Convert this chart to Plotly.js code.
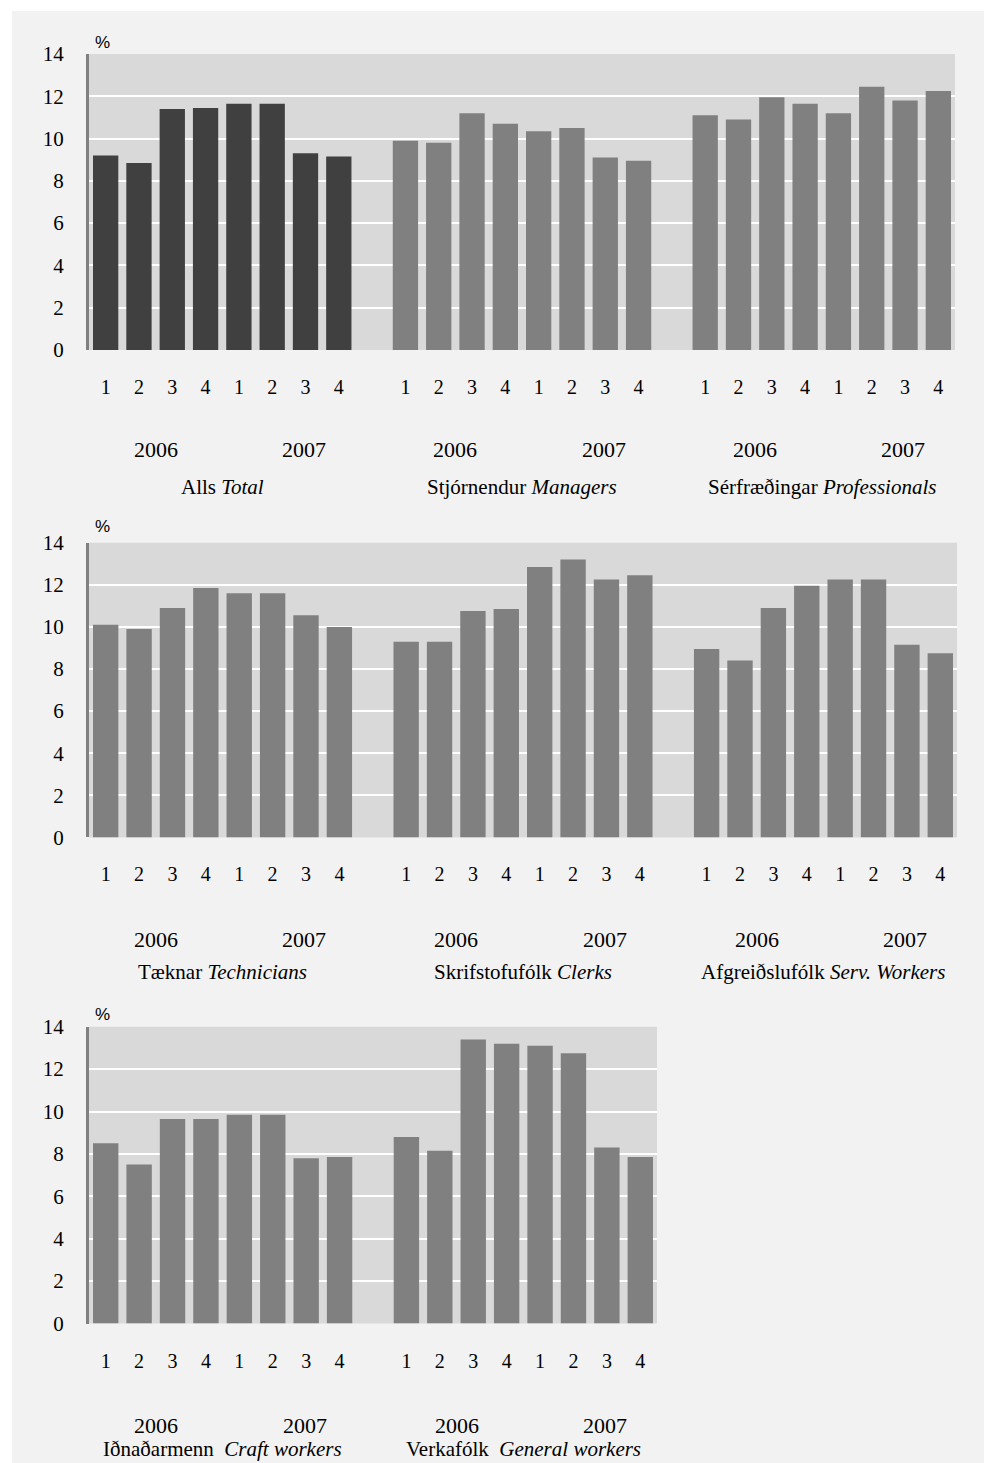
<!DOCTYPE html>
<html>
<head>
<meta charset="utf-8">
<script src="https://cdn.plot.ly/plotly-3.0.1.min.js"></script>
<style>
  html, body { margin: 0; padding: 0; background: #ffffff; width: 984px; height: 1463px; overflow: hidden; }
  #chart { position: absolute; left: 12px; top: 11px; width: 972px; height: 1452px; }
</style>
</head>
<body>
<div id="chart"></div>
<script>
// ---- data ----
const quarters = ['1', '2', '3', '4', '1', '2', '3', '4'];
const years = ['2006', '2007'];

const total         = [9.2, 8.85, 11.4, 11.45, 11.65, 11.65, 9.3, 9.15];
const managers      = [9.9, 9.8, 11.2, 10.7, 10.35, 10.5, 9.1, 8.95];
const professionals = [11.1, 10.9, 11.95, 11.65, 11.2, 12.45, 11.8, 12.25];
const technicians   = [10.1, 9.9, 10.9, 11.85, 11.6, 11.6, 10.55, 10.0];
const clerks        = [9.3, 9.3, 10.75, 10.85, 12.85, 13.2, 12.25, 12.45];
const servWorkers   = [8.95, 8.4, 10.9, 11.95, 12.25, 12.25, 9.15, 8.75];
const craftWorkers  = [8.5, 7.5, 9.65, 9.65, 9.85, 9.85, 7.8, 7.85];
const generalWorkers= [8.8, 8.15, 13.4, 13.2, 13.1, 12.75, 8.3, 7.85];

const groupNames = [
  ['Alls <i>Total</i>', 'Stjórnendur <i>Managers</i>', 'Sérfræðingar <i>Professionals</i>'],
  ['Tæknar <i>Technicians</i>', 'Skrifstofufólk <i>Clerks</i>', 'Afgreiðslufólk <i>Serv. Workers</i>'],
  ['Iðnaðarmenn  <i>Craft workers</i>', 'Verkafólk  <i>General workers</i>']
];
const rowsData = [
  [total, managers, professionals],
  [technicians, clerks, servWorkers],
  [craftWorkers, generalWorkers]
];

// ---- layout geometry (page pixels) ----
const OX = 12, OY = 11, W = 972, H = 1452;
const px2x = X => (X - OX) / W;
const px2y = Y => 1 - (Y - OY) / H;

const rowsGeom = [
  { x0: 89, x1: 955, yTop: 54,    yBot: 350,    yearY: 450,  nameY: 487,  pctY: 42 },
  { x0: 89, x1: 957, yTop: 542.7, yBot: 837.4,  yearY: 939,  nameY: 972,  pctY: 527 },
  { x0: 89, x1: 657, yTop: 1026.7,yBot: 1323.5, yearY: 1425, nameY: 1449, pctY: 1014 }
];

const serif = 'Liberation Serif, Times New Roman, serif';
const sans = 'Liberation Sans, Arial, sans-serif';

const traces = [];
const layout = {
  width: W, height: H,
  margin: { l: 0, r: 0, t: 0, b: 0, pad: 0 },
  paper_bgcolor: '#f2f2f2',
  plot_bgcolor: '#d9d9d9',
  showlegend: false,
  bargap: 0.24,
  annotations: []
};

rowsData.forEach((row, r) => {
  const g = rowsGeom[r];
  const sfx = r === 0 ? '' : String(r + 1);
  const xa = 'x' + sfx, ya = 'y' + sfx;
  const nSlots = row.length * 9 - 1;
  const tickvals = [], ticktext = [];
  row.forEach((vals, gi) => {
    const xs = quarters.map((q, i) => gi * 9 + i);
    xs.forEach((x, i) => { tickvals.push(x); ticktext.push(quarters[i]); });
    traces.push({
      type: 'bar', x: xs, y: vals, xaxis: xa, yaxis: ya,
      marker: { color: (r === 0 && gi === 0) ? '#404040' : '#808080', line: { width: 0 } },
      hoverinfo: 'skip'
    });
    // year labels
    years.forEach((yr, yi) => {
      layout.annotations.push({
        xref: xa, yref: 'paper', x: gi * 9 + (yi === 0 ? 1.5 : 5.95), y: px2y(g.yearY),
        text: yr, showarrow: false, xanchor: 'center', yanchor: 'middle',
        font: { family: serif, size: 22, color: '#000' }
      });
    });
    layout.annotations.push({
      xref: xa, yref: 'paper', x: gi * 9 + 3.5, y: px2y(g.nameY),
      text: groupNames[r][gi], showarrow: false, xanchor: 'center', yanchor: 'middle',
      font: { family: serif, size: 21, color: '#000' }
    });
  });
  layout.annotations.push({
    xref: 'paper', yref: 'paper', x: px2x(102), y: px2y(g.pctY),
    text: '%', showarrow: false, xanchor: 'center', yanchor: 'middle',
    font: { family: sans, size: 17, color: '#000' }
  });
  layout['xaxis' + sfx] = {
    domain: [px2x(g.x0), px2x(g.x1)],
    anchor: ya,
    range: [-0.5, nSlots - 0.5],
    tickvals: tickvals, ticktext: ticktext,
    ticks: '', showgrid: false, zeroline: false, showline: false,
    ticklabelstandoff: 23,
    tickfont: { family: serif, size: 20, color: '#000' },
    fixedrange: true
  };
  layout['yaxis' + sfx] = {
    domain: [px2y(g.yBot), px2y(g.yTop)],
    anchor: xa,
    range: [0, 14], dtick: 2, tick0: 0,
    showgrid: true, gridcolor: '#ffffff', gridwidth: 2,
    zeroline: false,
    showline: true, linecolor: '#808080', linewidth: 3,
    ticks: '', ticklabelstandoff: 18,
    tickfont: { family: serif, size: 21, color: '#000' },
    fixedrange: true
  };
});

Plotly.newPlot('chart', traces, layout, { staticPlot: true, displayModeBar: false });
</script>
</body>
</html>
